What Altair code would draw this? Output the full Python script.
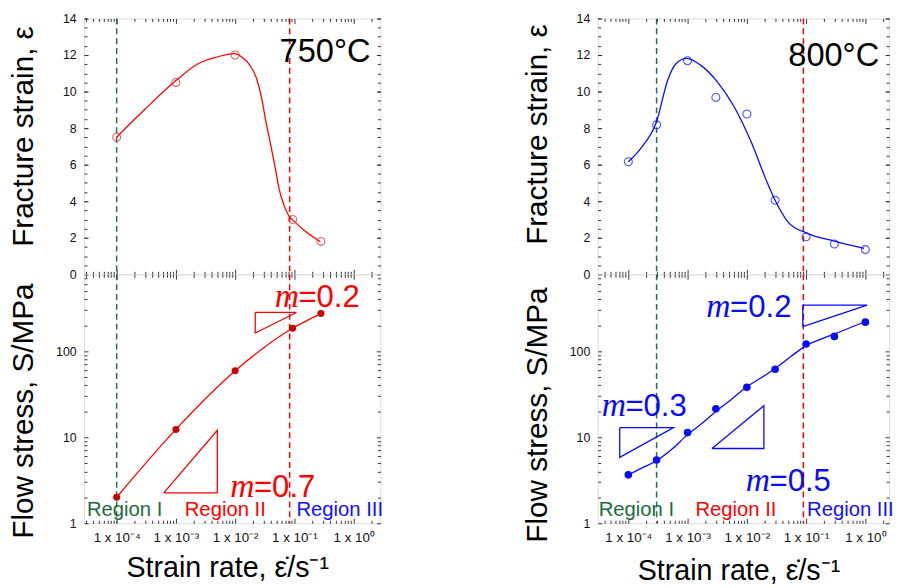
import math
import altair as alt
import pandas as pd

FONT = "Liberation Sans"
SERIF = "Liberation Serif"

# ---------------- data: 750 °C ----------------
rate_750 = [1e-4, 1e-3, 1e-2, 0.093, 0.28]
strain_750 = [7.5, 10.5, 12.0, 3.0, 1.8]
stress_750 = [2.0, 12.3, 59.0, 184.0, 273.0]
curve750_rate = [1e-4, 3e-4, 1e-3, 2.33e-3, 4.4e-3, 1e-2, 0.0131, 0.018, 0.0233,
                 0.0282, 0.0332, 0.0379, 0.0488, 0.0548, 0.0663, 0.0816, 0.0926, 0.14, 0.274]
curve750_strain = [7.5, 9.03, 10.6, 11.51, 11.85, 12.08, 11.88, 11.41, 10.65,
                   9.57, 8.31, 7.41, 5.6, 4.7, 3.8, 3.17, 2.99, 2.45, 1.78]
tri750_id = ["a", "a", "a", "a", "b", "b", "b", "b"]
tri750_rate = [6.24e-4, 5.0e-3, 5.0e-3, 6.24e-4, 0.0218, 0.108, 0.0218, 0.0218]
tri750_stress = [2.25, 12.0, 2.25, 2.25, 281, 281, 162, 281]
m750_rate = [0.0464, 8.25e-3]
m750_stress = [329, 1.99]
m750_text = ["=0.2", "=0.7"]
region750_rate = [3.16e-5, 1.41e-3, 0.108]
lines750_rate = [1e-4, 0.083]

# ---------------- data: 800 °C ----------------
rate_800 = [1e-4, 3e-4, 1e-3, 3e-3, 1e-2, 3e-2, 0.1, 0.3, 1.0]
strain_800 = [6.16, 8.18, 11.69, 9.68, 8.77, 4.05, 2.05, 1.66, 1.35]
stress_800 = [3.65, 5.42, 11.3, 21.4, 37.9, 61.5, 121, 148, 217]
curve800_rate = [1e-4, 1.65e-4, 3e-4, 4.6e-4, 6.3e-4, 9.6e-4, 1.7e-3, 3.2e-3, 6.1e-3,
                 1.17e-2, 2.2e-2, 3e-2, 4.96e-2, 0.1, 0.3, 0.95]
curve800_strain = [6.16, 6.92, 8.36, 10.61, 11.51, 11.82, 11.42, 10.52, 9.17,
                   7.28, 5.03, 4.05, 2.86, 2.27, 1.82, 1.42]
fit800_rate = [1e-4, 1.7e-4, 3e-4, 5.6e-4, 1e-3, 1.78e-3, 3e-3, 5.6e-3, 1e-2,
               1.78e-2, 3e-2, 5.6e-2, 0.1, 0.178, 0.3, 0.56, 1.0]
fit800_stress = [3.65, 4.39, 5.33, 7.37, 10.7, 14.6, 19.9, 27.8, 38.6,
                 49.3, 62.9, 87, 115.8, 138, 158, 188, 220]
tri800_id = ["a", "a", "a", "a", "b", "b", "b", "b", "c", "c", "c", "c"]
tri800_rate = [7.16e-5, 5.78e-4, 7.16e-5, 7.16e-5, 2.58e-3, 0.0194, 0.0194, 2.58e-3,
               0.088, 1.07, 0.088, 0.088]
tri800_stress = [12.9, 12.9, 5.82, 12.9, 7.38, 23.2, 7.38, 7.38, 342, 342, 193, 342]
m800_rate = [3.55e-5, 9.6e-3, 2.07e-3]
m800_stress = [17.5, 2.35, 249]
m800_text = ["=0.3", "=0.5", "=0.2"]
region800_rate = [3.16e-5, 1.36e-3, 0.104]
lines800_rate = [3.0e-4, 0.09]

region_text = ["Region I", "Region II", "Region III"]
region_color = ["#1d6b3e", "#ff0000", "#1010ff"]
region_stress = [1.2, 1.2, 1.2]

# ---------------- axes ----------------
xtick_major = [1e-4, 1e-3, 1e-2, 1e-1, 1e0]
xtick_labels = ["1 x 10⁻⁴", "1 x 10⁻³", "1 x 10⁻²", "1 x 10⁻¹", "1 x 10⁰"]
strain_ticks = [0, 2, 4, 6, 8, 10, 12, 14]
stress_ticks = [1, 10, 100]

RED = "#ff0000"
DRED = "#cc0000"
BLUE = "#0a0aff"
GREEN = "#2b6b4e"
TICK = "#333333"

TOP_H = 259
BOT_H = 252


def log_minor(lo, hi):
    out = []
    for e in range(-6, 3):
        for k in range(2, 10):
            v = k * 10.0 ** e
            if lo <= v <= hi:
                out.append(v)
    return out


def within(vals, lo, hi):
    return [v for v in vals if lo <= v <= hi]


def tick_axis(orient, offset, values, size):
    return alt.Axis(orient=orient, offset=offset, values=values, labels=False,
                    domain=False, grid=False, ticks=True, tickSize=size,
                    tickColor=TICK, tickWidth=1, title=None)


def panel(W, H, xdom, ytype, ydom, ymaj, ymin, ytitle, ytitle_y,
          xlabels, xtitle_y, marks):
    xs = alt.Scale(type="log", domain=xdom, nice=False)
    if ytype == "log":
        ys = alt.Scale(type="log", domain=ydom, nice=False)
    else:
        ys = alt.Scale(type="linear", domain=ydom, nice=False, zero=False)
    xmaj = within(xtick_major, *xdom)
    xmin = log_minor(*xdom)
    base_df = pd.DataFrame({"x": [xdom[0]], "y": [ydom[0]]})

    def inv(xaxis, yaxis):
        return alt.Chart(base_df).mark_point(opacity=0).encode(
            x=alt.X("x:Q", scale=xs, axis=xaxis),
            y=alt.Y("y:Q", scale=ys, axis=yaxis))

    lab_expr = "[" + ",".join("'%s'" % s for s in xtick_labels) + "][round(log(datum.value)/LN10)+4]"
    if xlabels:
        xaxis = alt.Axis(orient="bottom", values=xmaj, labelExpr=lab_expr, ticks=False,
                         domain=False, grid=False, labelFont=FONT, labelFontSize=13.5,
                         labelColor="#111", labelPadding=8, labelFlush=False,
                         labelOverlap=False,
                         title="Strain rate, ε̇/s⁻¹", titleFont=FONT, titleFontSize=29,
                         titleFontWeight="normal", titleColor="#000", titleX=W / 2 - 5,
                         titleY=xtitle_y, titleAlign="center", titleBaseline="alphabetic")
    else:
        xaxis = None
    yaxis = alt.Axis(orient="left", values=ymaj, ticks=False, domain=False, grid=False,
                     labelFont=FONT, labelFontSize=12.5, labelColor="#111", labelPadding=8,
                     labelFlush=False, labelOverlap=False, format="d",
                     title=ytitle, titleFont=FONT, titleFontSize=30,
                     titleFontWeight="normal", titleColor="#000", titleX=-52,
                     titleY=ytitle_y, titleAngle=270, titleAlign="center",
                     titleBaseline="alphabetic")
    layers = [
        inv(xaxis, yaxis),
        inv(tick_axis("top", -H, xmaj, 5), tick_axis("right", -W, ymaj, 4)),
        inv(tick_axis("bottom", -H, xmaj, 5), tick_axis("left", -W, ymaj, 4)),
        inv(tick_axis("top", -H, xmin, 3), tick_axis("right", -W, ymin, 3)),
        inv(tick_axis("bottom", -H, xmin, 3), tick_axis("left", -W, ymin, 3)),
    ]
    for m in marks:
        layers.append(m(xs, ys))
    return alt.layer(*layers).properties(width=W, height=H).resolve_axis(
        x="independent", y="independent")


def X(xs, f="x"):
    return alt.X(f + ":Q", scale=xs, axis=None)


def Y(ys, f="y"):
    return alt.Y(f + ":Q", scale=ys, axis=None)


def line_mark(xv, yv, color, interp="monotone"):
    df = pd.DataFrame({"x": xv, "y": yv})
    return lambda xs, ys: alt.Chart(df).mark_line(
        color=color, strokeWidth=1.3, interpolate=interp).encode(x=X(xs), y=Y(ys))


def open_pts(xv, yv, color):
    df = pd.DataFrame({"x": xv, "y": yv})
    return lambda xs, ys: alt.Chart(df).mark_point(
        shape="circle", filled=False, size=65, strokeWidth=1.1, color=color).encode(
        x=X(xs), y=Y(ys))


def dots(xv, yv, color, size=50):
    df = pd.DataFrame({"x": xv, "y": yv})
    return lambda xs, ys: alt.Chart(df).mark_circle(
        size=size, opacity=1, color=color).encode(x=X(xs), y=Y(ys))


def vlines(xv):
    df = pd.DataFrame({"x": xv, "c": [GREEN, RED]})
    return lambda xs, ys: alt.Chart(df).mark_rule(
        strokeDash=[6, 4], strokeWidth=1.5).encode(
        x=X(xs), color=alt.Color("c:N", scale=None))


def triangles(ids, xv, yv, color):
    df = pd.DataFrame({"t": ids, "x": xv, "y": yv, "o": list(range(len(ids)))})
    return lambda xs, ys: alt.Chart(df).mark_line(
        color=color, strokeWidth=1.3, interpolate="linear").encode(
        x=X(xs), y=Y(ys), detail="t:N", order="o:Q")


def m_labels(xv, yv, texts, color):
    df = pd.DataFrame({"x": xv, "y": yv, "t": texts})

    def f(xs, ys):
        m = alt.Chart(df).mark_text(
            text="m", font=SERIF, fontStyle="italic", fontSize=34, color=color,
            align="left", baseline="alphabetic").encode(x=X(xs), y=Y(ys))
        rest = alt.Chart(df).mark_text(
            font=FONT, fontSize=31.5, color=color, align="left", baseline="alphabetic",
            dx=24).encode(x=X(xs), y=Y(ys), text="t:N")
        return alt.layer(m, rest)
    return f


def regions(xv):
    df = pd.DataFrame({"x": xv, "y": region_stress, "t": region_text, "c": region_color})
    return lambda xs, ys: alt.Chart(df).mark_text(
        font=FONT, fontSize=20.5, align="left", baseline="alphabetic").encode(
        x=X(xs), y=Y(ys), text="t:N", color=alt.Color("c:N", scale=None))


def temp_label(x, y, t):
    df = pd.DataFrame({"x": [x], "y": [y], "t": [t]})
    return lambda xs, ys: alt.Chart(df).mark_text(
        font=FONT, fontSize=33, align="left", baseline="alphabetic", color="#000").encode(
        x=X(xs), y=Y(ys), text="t:N")


XD_L = [10 ** -4.55, 10 ** 0.45]
XD_R = [10 ** -4.517, 10 ** 0.40]
YD_T = [0, 14]
YD_B = [1, 780]
ymin_top = [v * 0.5 for v in range(0, 29)]
ymin_bot = log_minor(1, 780)

top750 = panel(300, TOP_H, XD_L, "linear", YD_T, strain_ticks, ymin_top,
               "Fracture strain, ε", 119, False, 0, [
                   vlines(lines750_rate),
                   line_mark(curve750_rate, curve750_strain, RED),
                   open_pts(rate_750, strain_750, "#dd2222"),
                   temp_label(0.056, 11.62, "750°C"),
               ])
bot750 = panel(300, BOT_H, XD_L, "log", YD_B, stress_ticks, ymin_bot,
               "Flow stress,  S/MPa", 138, True, 54, [
                   vlines(lines750_rate),
                   line_mark(rate_750, stress_750, RED),
                   dots(rate_750, stress_750, DRED, 50),
                   triangles(tri750_id, tri750_rate, tri750_stress, RED),
                   m_labels(m750_rate, m750_stress, m750_text, RED),
                   regions(region750_rate),
               ])
top800 = panel(295, TOP_H, XD_R, "linear", YD_T, strain_ticks, ymin_top,
               "Fracture strain, ε", 117, False, 0, [
                   vlines(lines800_rate),
                   line_mark(curve800_rate, curve800_strain, BLUE),
                   open_pts(rate_800, strain_800, BLUE),
                   temp_label(0.05, 11.42, "800°C"),
               ])
bot800 = panel(295, BOT_H, XD_R, "log", YD_B, stress_ticks, ymin_bot,
               "Flow stress,  S/MPa", 142, True, 57, [
                   vlines(lines800_rate),
                   line_mark(fit800_rate, fit800_stress, BLUE),
                   dots(rate_800, stress_800, BLUE, 60),
                   triangles(tri800_id, tri800_rate, tri800_stress, BLUE),
                   m_labels(m800_rate, m800_stress, m800_text, BLUE),
                   regions(region800_rate),
               ])

left = alt.vconcat(top750, bot750, spacing=0, bounds="flush")
right = alt.vconcat(top800, bot800, spacing=0, bounds="flush")
chart = alt.hconcat(left, right, spacing=520, bounds="flush").properties(
    padding={"left": 0, "top": 0, "right": 0, "bottom": 0}
).configure_view(stroke="#222222", strokeWidth=1.5).configure(background="white")

chart.save("out.html", embed_options={"renderer": "svg", "actions": False})
